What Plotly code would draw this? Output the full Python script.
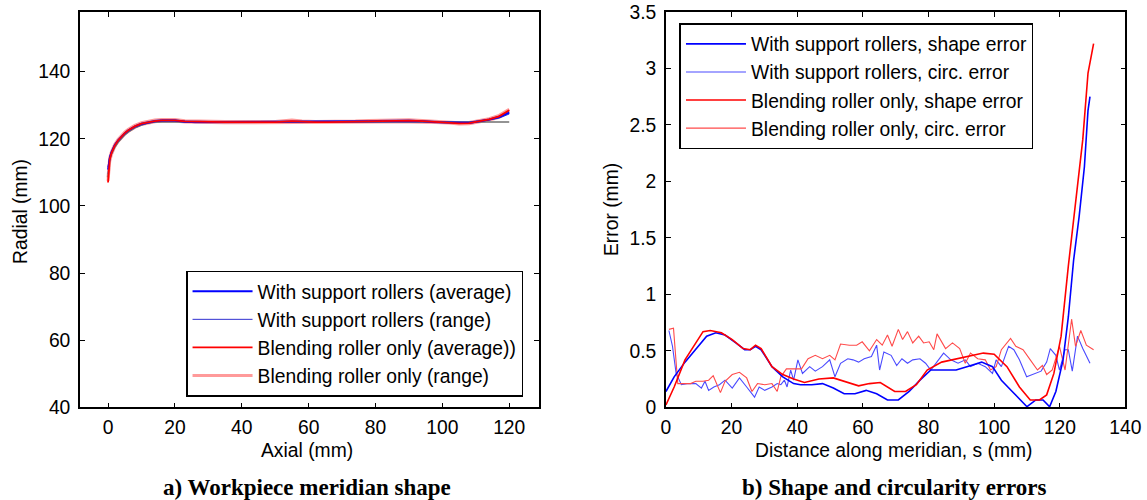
import plotly.graph_objects as go

# ---------------- Left panel data: workpiece meridian shape ----------------
axial = [0, 0.5, 1, 2, 3, 4, 5, 6, 8, 10, 12, 14, 16, 18, 20, 23, 26, 30, 35, 40, 45, 50,
         55, 58, 62, 66, 70, 74, 78, 82, 86, 90, 94, 98, 102, 105, 108, 111, 114, 117, 120]
sup_avg = [110.8, 114.3, 115.9, 118.1, 119.5, 120.7, 121.6, 122.4, 123.6, 124.4, 124.9, 125.2,
           125.4, 125.5, 125.4, 125.1, 125.0, 125.0, 125.0, 125.0, 125.0, 125.0, 125.1, 125.0,
           125.0, 125.0, 125.0, 125.0, 125.1, 125.2, 125.3, 125.3, 125.2, 125.0, 124.9, 124.7,
           124.8, 125.2, 125.7, 126.5, 127.8]
sup_lo = [109.5, 113.6, 115.4, 117.7, 119.2, 120.4, 121.3, 122.1, 123.3, 124.1, 124.7, 125.0,
          125.2, 125.3, 125.2, 124.9, 124.8, 124.8, 124.8, 124.8, 124.8, 124.8, 124.9, 124.8,
          124.8, 124.8, 124.8, 124.8, 124.9, 125.0, 125.1, 125.1, 125.0, 124.8, 124.7, 124.5,
          124.6, 125.0, 125.5, 126.2, 127.4]
sup_hi = [111.6, 114.8, 116.3, 118.4, 119.8, 121.0, 121.9, 122.7, 123.9, 124.7, 125.2, 125.5,
          125.7, 125.8, 125.7, 125.3, 125.2, 125.2, 125.2, 125.2, 125.2, 125.2, 125.3, 125.2,
          125.2, 125.2, 125.2, 125.2, 125.4, 125.5, 125.6, 125.6, 125.4, 125.2, 125.1, 124.9,
          125.0, 125.4, 125.9, 126.8, 128.2]
bro_avg = [107.0, 113.8, 115.7, 118.0, 119.5, 120.7, 121.7, 122.5, 123.7, 124.5, 125.0, 125.3,
           125.5, 125.6, 125.5, 125.2, 125.1, 125.0, 125.0, 125.0, 125.0, 125.0, 125.3, 125.1,
           125.0, 125.0, 125.0, 125.1, 125.2, 125.3, 125.4, 125.4, 125.3, 125.1, 124.9, 124.6,
           124.7, 125.2, 125.8, 126.7, 128.5]
bro_lo = [107.5, 113.3, 115.3, 117.7, 119.2, 120.4, 121.4, 122.2, 123.4, 124.3, 124.8, 125.1,
          125.3, 125.4, 125.3, 125.0, 124.9, 124.8, 124.8, 124.8, 124.8, 124.8, 125.0, 124.9,
          124.8, 124.8, 124.8, 124.9, 125.0, 125.0, 125.1, 125.1, 125.0, 124.9, 124.7, 124.4,
          124.5, 125.0, 125.6, 126.4, 128.1]
bro_hi = [108.5, 114.3, 116.1, 118.3, 119.8, 121.0, 122.0, 122.8, 124.0, 124.8, 125.3, 125.6,
          125.8, 125.9, 125.8, 125.4, 125.3, 125.2, 125.2, 125.2, 125.2, 125.2, 125.6, 125.3,
          125.2, 125.2, 125.2, 125.3, 125.5, 125.6, 125.7, 125.7, 125.5, 125.3, 125.1, 124.8,
          124.9, 125.4, 126.0, 127.0, 128.8]
nom_x = [0, 0.5, 1, 2, 3, 4, 5, 6, 8, 10, 12, 14, 15, 120]
nom_y = [108.5, 113.8, 115.4, 117.5, 119.0, 120.2, 121.2, 122.0, 123.3, 124.1, 124.7, 125.0,
         125.0, 125.0]

# ---------------- Right panel data: shape and circularity errors ----------------
s_sup_shape = [0, 2.5, 5.8, 9.1, 12.4, 15.2, 18, 21.3, 24, 25.7, 27.3, 29, 32.3, 35.6, 38.9,
               41, 44.4, 47.7, 51, 54.3, 57.6, 61, 64.2, 67.5, 70.8, 74.1, 77.4, 80.7, 84,
               88.4, 91.7, 96.2, 99.5, 102.2, 105.5, 110, 112.7, 114.9, 116.9, 118.8, 121,
               122.6, 124.2, 125.9, 127.5, 128.6, 129.2]
e_sup_shape = [0.14, 0.27, 0.40, 0.52, 0.63, 0.66, 0.64, 0.57, 0.51, 0.51, 0.54, 0.51, 0.36,
               0.27, 0.21, 0.20, 0.20, 0.21, 0.17, 0.12, 0.12, 0.15, 0.12, 0.065, 0.065, 0.14,
               0.24, 0.33, 0.33, 0.33, 0.36, 0.40, 0.36, 0.24, 0.14, 0.005, 0.065, 0.065, 0.005,
               0.14, 0.42, 0.80, 1.30, 1.69, 2.13, 2.63, 2.75]

s_bro_shape = [0, 2.5, 5.8, 8.6, 11.3, 13.5, 16.9, 20.2, 23.5, 25.7, 27.3, 29, 32.3, 35.6,
               38.9, 42.2, 46.6, 51, 54.3, 58.7, 62, 65.3, 69.7, 73, 76.3, 79.6, 84, 88.4,
               92.8, 96.7, 100, 103.9, 107.7, 111, 113.8, 116, 118.2, 120.4, 122.6, 124.8,
               127, 128.6, 130.3]
e_bro_shape = [0.02, 0.18, 0.42, 0.55, 0.67, 0.68, 0.66, 0.60, 0.52, 0.51, 0.55, 0.52, 0.36,
               0.29, 0.25, 0.22, 0.25, 0.26, 0.23, 0.19, 0.21, 0.22, 0.14, 0.14, 0.20, 0.33,
               0.40, 0.43, 0.46, 0.48, 0.47, 0.36, 0.18, 0.065, 0.065, 0.11, 0.30, 0.63, 1.25,
               1.84, 2.37, 2.96, 3.22]

s_sup_circ = [0.9, 2, 3.1, 4.7, 6.9, 9.1, 10.8, 11.9, 13, 14.6, 16.3, 18, 20.2, 22.4, 24.6, 27,
              28.4, 30.1, 32.3, 33.9, 35, 36.1, 36.9, 38, 38.9, 40.2, 41.6, 43.8, 45.5, 47.7,
              49.9, 51.5, 53.2, 55.4, 57, 58.7, 60.4, 62.6, 64.2, 65.1, 66.4, 68.6, 70.3, 71.9,
              73.6, 75.2, 77.4, 79.1, 80.7, 82.4, 84.6, 86.8, 89, 91.2, 92.8, 95, 97.3, 99.5,
              100.6, 102.2, 104.4, 106, 107.7, 109.9, 112.7, 114.3, 116, 117.1, 118.8, 119.9,
              121.6, 122.6, 123.8, 125.4, 127, 129.2]
e_sup_circ = [0.68, 0.54, 0.30, 0.20, 0.21, 0.21, 0.17, 0.23, 0.15, 0.18, 0.20, 0.24, 0.17,
              0.26, 0.18, 0.09, 0.18, 0.15, 0.18, 0.21, 0.20, 0.24, 0.18, 0.33, 0.24, 0.42,
              0.30, 0.36, 0.32, 0.36, 0.42, 0.27, 0.39, 0.43, 0.42, 0.40, 0.43, 0.45, 0.55,
              0.33, 0.49, 0.46, 0.37, 0.43, 0.39, 0.42, 0.43, 0.39, 0.33, 0.40, 0.48, 0.42,
              0.39, 0.42, 0.36, 0.39, 0.36, 0.30, 0.42, 0.36, 0.54, 0.51, 0.42, 0.27, 0.30,
              0.32, 0.40, 0.52, 0.46, 0.33, 0.51, 0.51, 0.32, 0.63, 0.52, 0.39]

s_bro_circ = [0.9, 2.3, 3.6, 5.3, 7.5, 9.1, 11.3, 13, 14.4, 16.6, 18, 20.2, 22.4, 24.6, 26.2,
              27.9, 30.1, 32.3, 33.9, 35, 36.7, 38.9, 41.3, 43.3, 45.5, 47.7, 49.9, 51.5, 53.2,
              55.9, 58.1, 59.8, 62, 64.2, 65.9, 67.5, 68.9, 70.8, 72.1, 73.6, 75.2, 77, 78.5,
              80.2, 81.6, 82.6, 85.2, 87.3, 89.5, 91.2, 92.8, 95, 97.3, 98.9, 100.6, 102.2,
              105, 106.6, 108.8, 111, 113.2, 114.7, 116, 117.7, 119.9, 121.6, 123.6, 124.8,
              126.4, 128.1, 130.3]
e_bro_circ = [0.69, 0.70, 0.21, 0.21, 0.21, 0.23, 0.23, 0.24, 0.28, 0.13, 0.23, 0.29, 0.31,
              0.26, 0.14, 0.21, 0.20, 0.21, 0.14, 0.27, 0.34, 0.34, 0.34, 0.43, 0.46, 0.43,
              0.46, 0.42, 0.56, 0.55, 0.55, 0.58, 0.50, 0.60, 0.55, 0.64, 0.54, 0.69, 0.60,
              0.67, 0.57, 0.63, 0.57, 0.58, 0.51, 0.65, 0.52, 0.57, 0.52, 0.39, 0.48, 0.43,
              0.42, 0.33, 0.36, 0.51, 0.61, 0.54, 0.51, 0.42, 0.33, 0.37, 0.29, 0.33, 0.54,
              0.33, 0.78, 0.54, 0.68, 0.55, 0.51]

left_xticks = [0, 20, 40, 60, 80, 100, 120]
left_yticks = [40, 60, 80, 100, 120, 140]
right_xticks = [0, 20, 40, 60, 80, 100, 120, 140]
right_yticks = [0, 0.5, 1, 1.5, 2, 2.5, 3, 3.5]

FONT = "Liberation Sans, Arial, Helvetica, sans-serif"
SERIF = "Liberation Serif, Times New Roman, serif"
FS = 19.3

fig = go.Figure()

# left panel traces (range first, then averages)
fig.add_trace(go.Scatter(x=axial, y=bro_hi, mode="lines", line=dict(color="#ff9a9a", width=3),
                         name="Blending roller only (range)", legend="legend", legendgroup="l4",
                         legendrank=4, xaxis="x", yaxis="y"))
fig.add_trace(go.Scatter(x=axial, y=bro_lo, mode="lines", line=dict(color="#ff9a9a", width=3),
                         showlegend=False, legendgroup="l4", xaxis="x", yaxis="y"))
fig.add_trace(go.Scatter(x=axial, y=sup_hi, mode="lines", line=dict(color="#3030d0", width=1),
                         name="With support rollers (range)", legend="legend", legendgroup="l2",
                         legendrank=2, xaxis="x", yaxis="y"))
fig.add_trace(go.Scatter(x=axial, y=sup_lo, mode="lines", line=dict(color="#3030d0", width=1),
                         showlegend=False, legendgroup="l2", xaxis="x", yaxis="y"))
fig.add_trace(go.Scatter(x=nom_x, y=nom_y, mode="lines", line=dict(color="#707070", width=1.6),
                         showlegend=False, xaxis="x", yaxis="y"))
fig.add_trace(go.Scatter(x=axial, y=sup_avg, mode="lines", line=dict(color="#0000ff", width=1.8),
                         name="With support rollers (average)", legend="legend", legendgroup="l1",
                         legendrank=1, xaxis="x", yaxis="y"))
fig.add_trace(go.Scatter(x=axial, y=bro_avg, mode="lines", line=dict(color="#ff0000", width=1.8),
                         name="Blending roller only (average))", legend="legend", legendgroup="l3",
                         legendrank=3, xaxis="x", yaxis="y"))

# right panel traces
fig.add_trace(go.Scatter(x=s_sup_circ, y=e_sup_circ, mode="lines",
                         line=dict(color="#4a4aff", width=1.1),
                         name="With support rollers, circ. error", legend="legend2",
                         legendgroup="r2", legendrank=2, xaxis="x2", yaxis="y2"))
fig.add_trace(go.Scatter(x=s_bro_circ, y=e_bro_circ, mode="lines",
                         line=dict(color="#ff4a4a", width=1.1),
                         name="Blending roller only, circ. error", legend="legend2",
                         legendgroup="r4", legendrank=4, xaxis="x2", yaxis="y2"))
fig.add_trace(go.Scatter(x=s_sup_shape, y=e_sup_shape, mode="lines",
                         line=dict(color="#0000ff", width=1.6),
                         name="With support rollers, shape error", legend="legend2",
                         legendgroup="r1", legendrank=1, xaxis="x2", yaxis="y2"))
fig.add_trace(go.Scatter(x=s_bro_shape, y=e_bro_shape, mode="lines",
                         line=dict(color="#ff0000", width=1.6),
                         name="Blending roller only, shape error", legend="legend2",
                         legendgroup="r3", legendrank=3, xaxis="x2", yaxis="y2"))

axis_common = dict(showline=True, linecolor="black", linewidth=1.5, mirror="ticks",
                   ticks="inside", ticklen=5, tickwidth=1, tickcolor="black", automargin=False,
                   ticklabeloverflow="allow",
                   showgrid=False, zeroline=False, tickfont=dict(family=FONT, size=FS, color="black"))

legend_common = dict(xanchor="left", yanchor="top", bgcolor="white", bordercolor="black",
                     borderwidth=1.5, itemwidth=60, traceorder="grouped", tracegroupgap=0,
                     font=dict(family=FONT, size=FS, color="black"))

fig.update_layout(
    width=1147, height=500,
    margin=dict(l=0, r=0, t=0, b=0, pad=0, autoexpand=False),
    paper_bgcolor="white", plot_bgcolor="white",
    font=dict(family=FONT, size=FS, color="black"),
    xaxis=dict(domain=[0.0697, 0.4699], range=[-8.4, 128.9], tickvals=left_xticks,
               ticklabelstandoff=2, anchor="y", **axis_common),
    yaxis=dict(domain=[0.1854, 0.976], range=[40, 157.8], tickvals=left_yticks,
               ticklabelstandoff=4, anchor="x", **axis_common),
    xaxis2=dict(domain=[0.5806, 0.9812], range=[0, 140], tickvals=right_xticks,
                ticklabelstandoff=2, anchor="y2", **axis_common),
    yaxis2=dict(domain=[0.1854, 0.976], range=[0, 3.5], tickvals=right_yticks,
                ticklabelstandoff=4, anchor="x2", **axis_common),
    legend=dict(x=0.1622, y=0.4586, **legend_common),
    legend2=dict(x=0.5924, y=0.9534, **legend_common),
    showlegend=True,
)

annots = [
    dict(text="Axial (mm)", x=0.2677, y=0.0986, font=dict(family=FONT, size=FS)),
    dict(text="Distance along meridian, s (mm)", x=0.7794, y=0.0986, font=dict(family=FONT, size=FS)),
    dict(text="Radial (mm)", x=0.0174, y=0.578, textangle=-90, font=dict(family=FONT, size=FS)),
    dict(text="Error (mm)", x=0.5327, y=0.58, textangle=-90, font=dict(family=FONT, size=FS)),
    dict(text="<b>a) Workpiece meridian shape</b>", x=0.2677, y=0.026, font=dict(family=SERIF, size=23)),
    dict(text="<b>b) Shape and circularity errors</b>", x=0.78, y=0.026, font=dict(family=SERIF, size=23)),
]
for a in annots:
    fig.add_annotation(xref="paper", yref="paper", showarrow=False, xanchor="center",
                       yanchor="middle", **a)

# remove the default 8 px page margin so the 1147x500 figure fills the window exactly
fig.write_html("out.html", config={"displayModeBar": False},
               post_script="document.body.style.margin='0';")
